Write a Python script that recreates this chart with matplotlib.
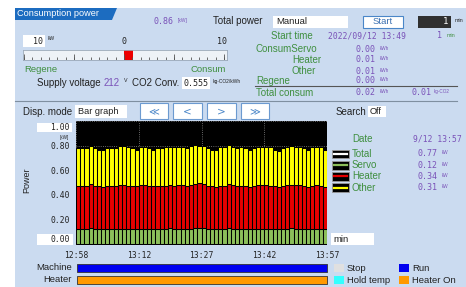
import numpy as np
import matplotlib
matplotlib.use('Agg')
import matplotlib.pyplot as plt
from matplotlib.patches import Rectangle, Polygon

servo = [0.12, 0.12, 0.12, 0.13, 0.12, 0.12, 0.12, 0.12, 0.12, 0.12,
         0.12, 0.12, 0.12, 0.12, 0.12, 0.12, 0.12, 0.12, 0.12, 0.12,
         0.12, 0.12, 0.13, 0.12, 0.12, 0.12, 0.12, 0.12, 0.13, 0.13,
         0.13, 0.12, 0.12, 0.12, 0.12, 0.12, 0.13, 0.12, 0.12, 0.12,
         0.12, 0.12, 0.12, 0.12, 0.12, 0.12, 0.12, 0.12, 0.12, 0.12,
         0.12, 0.13, 0.12, 0.12, 0.12, 0.12, 0.12, 0.12, 0.12, 0.12]
heater = [0.35, 0.35, 0.35, 0.36, 0.35, 0.35, 0.34, 0.35, 0.35, 0.35,
          0.36, 0.36, 0.35, 0.35, 0.35, 0.36, 0.36, 0.35, 0.35, 0.35,
          0.35, 0.35, 0.35, 0.35, 0.36, 0.36, 0.35, 0.36, 0.36, 0.37,
          0.36, 0.35, 0.35, 0.34, 0.35, 0.35, 0.36, 0.36, 0.35, 0.35,
          0.35, 0.34, 0.35, 0.36, 0.36, 0.36, 0.35, 0.35, 0.34, 0.35,
          0.36, 0.35, 0.36, 0.36, 0.35, 0.34, 0.35, 0.36, 0.35, 0.34]
other = [0.31, 0.31, 0.31, 0.31, 0.31, 0.30, 0.31, 0.31, 0.31, 0.31,
         0.32, 0.32, 0.32, 0.31, 0.30, 0.31, 0.31, 0.31, 0.30, 0.31,
         0.31, 0.32, 0.31, 0.32, 0.31, 0.31, 0.31, 0.32, 0.32, 0.30,
         0.31, 0.31, 0.30, 0.31, 0.32, 0.32, 0.32, 0.31, 0.31, 0.32,
         0.31, 0.31, 0.31, 0.31, 0.31, 0.31, 0.32, 0.30, 0.30, 0.31,
         0.31, 0.32, 0.31, 0.31, 0.31, 0.31, 0.32, 0.31, 0.32, 0.31]
time_ticks = [0, 15, 30, 45, 60]
time_labels = ['12:58', '13:12', '13:27', '13:42', '13:57']
y_ticks = [0.0, 0.2, 0.4, 0.6, 0.8, 1.0]

legend_names = ['Total', 'Servo', 'Heater', 'Other']
legend_values = [0.77, 0.12, 0.34, 0.31]
energy_names = ['ConsumServo', 'Heater', 'Other', 'Regene']
energy_values = [0.00, 0.01, 0.01, 0.00]
total_consum = 0.02
total_co2 = 0.01
current_power = 0.86
gauge_max = 10
supply_voltage = 212
co2_conv = 0.555

machine_runs = [(0, 60, 'Run')]
heater_runs = [(0, 60, 'Heater On')]

# ---- colours / fonts ----
BG = '#cbdbf0'
GREEN = '#3f8f3f'
PURPLE = '#7a52b8'
DARK = '#222222'
C_SERVO = '#8cbf5a'
C_HEATER = '#e60000'
C_OTHER = '#ffff00'
state_colors = {'Stop': '#e0e0e0', 'Run': '#0000f0',
                'Hold temp': '#33ffff', 'Heater On': '#ff9900'}
SANS = 'Liberation Sans'
MONO = 'DejaVu Sans Mono'

W, H = 466, 287
fig = plt.figure(figsize=(W / 100, H / 100), dpi=100)
fig.patch.set_facecolor('white')

# background axes in pixel coords (y down)
bg = fig.add_axes([0, 0, 1, 1])
bg.set_xlim(0, W)
bg.set_ylim(H, 0)
bg.axis('off')


def px_axes(x0, y0, x1, y1):
    return fig.add_axes([x0 / W, 1 - y1 / H, (x1 - x0) / W, (y1 - y0) / H])


def txt(x, y, s, color=DARK, size=7, family=SANS, ha='left', **kw):
    bg.text(x, y, s, color=color, fontsize=size, family=family, ha=ha, va='center', **kw)


def box(x0, y0, x1, y1, fc='white', ec='none', lw=0.8):
    bg.add_patch(Rectangle((x0, y0), x1 - x0, y1 - y0, fc=fc, ec=ec, lw=lw))


# panel + title tab
box(15, 8, W, H, fc=BG)
bg.add_patch(Polygon([(15, 8), (117, 8), (112, 20), (15, 20)], closed=True, fc='#1c6cc0', ec='none'))
txt(17, 14, 'Consumption power', color='white', size=6.6)

# top row
txt(153, 21.5, f'{current_power:.2f}', color=PURPLE, size=6, family=MONO)
txt(178, 20.5, '[kW]', color=PURPLE, size=3.5)
txt(213, 21.5, 'Total power', size=7)
box(273, 16, 348, 28)
txt(276, 21.5, 'Manual', size=6.8)
box(363, 16, 403, 28, ec='#4a86c8')
txt(383, 22, 'Start', color='#3a6fb0', size=6.8, ha='center')
box(418, 16, 451, 28, fc='#303030')
txt(448, 22, '1', color='white', size=6.5, family=MONO, ha='right')
txt(455, 21, 'min', size=3.8)

# gauge labels
box(23, 35, 45, 47)
txt(43, 41, str(gauge_max), size=6, family=MONO, ha='right')
txt(48, 39, 'kW', size=3.5)
txt(124, 41, '0', size=6, family=MONO, ha='center')
txt(222, 41, str(gauge_max), size=6, family=MONO, ha='center')
txt(24, 69.5, 'Regene', color=GREEN, size=6.8)
txt(226, 69.5, 'Consum', color=GREEN, size=6.8, ha='right')

# gauge
gax = px_axes(23, 50, 227, 60)
gax.set_xlim(-gauge_max - 0.1, gauge_max + 0.3)
gax.set_ylim(0, 1)
gax.set_facecolor('#eef2f7')
for s in gax.spines.values():
    s.set_color('#9aa8b8')
    s.set_linewidth(0.6)
gax.set_xticks([])
gax.set_yticks([])
minor = np.linspace(-gauge_max, gauge_max, 25)
gax.vlines(minor, 0, 0.3, color='#555555', lw=0.6)
gax.vlines([-10, -5, 0, 5, 10], 0, 0.6, color='#555555', lw=0.6)
gax.barh(0.5, current_power, left=0, height=1.0, color='#ee0000', align='center')

# supply voltage row
txt(37, 82.5, 'Supply voltage', size=7)
txt(104, 82.5, str(supply_voltage), color=PURPLE, size=7)
txt(124, 80.5, 'V', size=3.8)
txt(132, 82.5, 'CO2 Conv.', size=7)
box(182, 77, 210, 89)
txt(208, 83, f'{co2_conv:.3f}', size=6, family=MONO, ha='right')
txt(213, 81, 'kg-CO2/kWh', size=3.5)

# energy block
txt(271, 36, 'Start time', color=GREEN, size=7)
txt(328, 36, '2022/09/12 13:49', color=PURPLE, size=5.8, family=MONO)
txt(442, 36, '1', color=PURPLE, size=6, family=MONO, ha='right')
txt(447, 35.5, 'min', color=GREEN, size=3.8)
name_x = [255, 292, 292, 256]
name_y = [49, 60, 71, 80.5]
for nm, v, nx, ny in zip(energy_names, energy_values, name_x, name_y):
    txt(nx, ny, nm, color=GREEN, size=7)
    txt(376, ny, f'{v:.2f}', color=PURPLE, size=6, family=MONO, ha='right')
    txt(380, ny - 1, 'kWh', color=PURPLE, size=3.3)
bg.plot([255, 457], [86, 86], color='#555555', lw=0.8)
txt(256, 92.5, 'Total consum', color=GREEN, size=7)
txt(376, 92.5, f'{total_consum:.2f}', color=PURPLE, size=6, family=MONO, ha='right')
txt(380, 91.5, 'kWh', color=PURPLE, size=3.3)
txt(432, 92.5, f'{total_co2:.2f}', color=PURPLE, size=6, family=MONO, ha='right')
txt(434, 91.5, 'kg-CO2', color=PURPLE, size=3.3)

bg.plot([15, 457], [101, 101], color='#7f8fa0', lw=0.8)

# display mode row
txt(23, 112, 'Disp. mode', size=7)
box(75, 105, 127, 118)
txt(78, 111.5, 'Bar graph', size=6.6)
for (x0, x1), lab in zip([(140, 168), (173, 202), (207, 236), (241, 269)],
                         ['\u226a', '<', '>', '\u226b']):
    box(x0, 103, x1, 119, ec='#6c9ad0')
    txt((x0 + x1) / 2, 111, lab, color='#4a86c8', size=7.5, family='DejaVu Sans', ha='center')
txt(336, 112, 'Search', size=7)
box(368, 106, 386, 117)
txt(370, 111.5, 'Off', size=6.6)

# y-axis range input boxes (top / bottom of the scale)
box(37, 123, 72, 132)
txt(70, 127.5, f'{y_ticks[-1]:.2f}', size=5.8, family=MONO, ha='right')
box(37, 234, 73, 245)
txt(70, 239.5, f'{y_ticks[0]:.2f}', size=5.8, family=MONO, ha='right')
txt(69, 137, '[kW]', size=3.3, ha='right')
box(331, 233, 374, 245)
txt(333, 239, 'min', size=6.8)

# main bar chart
ax = px_axes(76, 121, 327, 245)
ax.set_facecolor('black')
ax.set_axisbelow(True)
x = np.arange(len(servo)) + 0.5
servo_a = np.array(servo)
heater_a = np.array(heater)
bar_kw = dict(width=1.0, edgecolor='black', linewidth=0.75, zorder=3)
ax.bar(x, servo, color=C_SERVO, **bar_kw)
ax.bar(x, heater, bottom=servo_a, color=C_HEATER, **bar_kw)
ax.bar(x, other, bottom=servo_a + heater_a, color=C_OTHER, **bar_kw)
ax.set_xlim(0, 60)
ax.set_ylim(-0.012, 1.004)
ax.set_xticks(time_ticks)
ax.set_xticklabels(time_labels, family=MONO, fontsize=5.8, color=DARK)
ax.set_yticks(y_ticks)
ax.set_yticklabels([''] + [f'{v:.2f}' for v in y_ticks[1:-1]] + [''],
                   family=MONO, fontsize=5.8, color=DARK)
ax.tick_params(length=0, pad=4.0)
ax.tick_params(axis='x', pad=4.0)
ax.grid(True, color='#8a8a8a', ls=':', lw=0.6)
for s in ax.spines.values():
    s.set_visible(False)
ax.set_ylabel('Power', family=SANS, fontsize=6.5, color=DARK)
ax.yaxis.set_label_coords(-0.18, 0.52)

# legend on the right
txt(352, 139.5, 'Date', color=GREEN, size=7)
txt(413, 139.5, '9/12 13:57', color=PURPLE, size=5.8, family=MONO)
line_colors = ['white', C_SERVO, C_HEATER, C_OTHER]
for i, (nm, v, c) in enumerate(zip(legend_names, legend_values, line_colors)):
    cy = 154 + i * 11.2
    box(332, cy - 4.3, 349, cy + 4.3, fc='black', ec='#9a9a9a', lw=0.6)
    bg.plot([334, 347], [cy, cy], color=c, lw=1.6)
    txt(352, cy, nm, color=GREEN, size=7)
    txt(438, cy, f'{v:.2f}', color=PURPLE, size=6, family=MONO, ha='right')
    txt(442, cy - 1, 'kW', color=PURPLE, size=3.3)

# machine / heater status bars
sax = px_axes(77, 262, 327, 285)
sax.set_xlim(0, 60)
sax.set_ylim(0, 23)
sax.axis('off')
sax.broken_barh([(a, b - a) for a, b, _ in machine_runs], (13, 8),
                facecolors=[state_colors[s] for _, _, s in machine_runs], edgecolor='#333333', lw=0.6)
sax.broken_barh([(a, b - a) for a, b, _ in heater_runs], (1, 7.5),
                facecolors=[state_colors[s] for _, _, s in heater_runs], edgecolor='#333333', lw=0.6)
txt(72, 268, 'Machine', size=6.8, ha='right')
txt(72, 279.5, 'Heater', size=6.8, ha='right')
for (sx, sy, name) in [(334, 264, 'Stop'), (399, 264, 'Run'),
                       (334, 276, 'Hold temp'), (399, 276, 'Heater On')]:
    box(sx, sy, sx + 10, sy + 8, fc=state_colors[name])
    txt(sx + 13, sy + 4.3, name, size=6.8)

fig.savefig('out.png', dpi=100)
